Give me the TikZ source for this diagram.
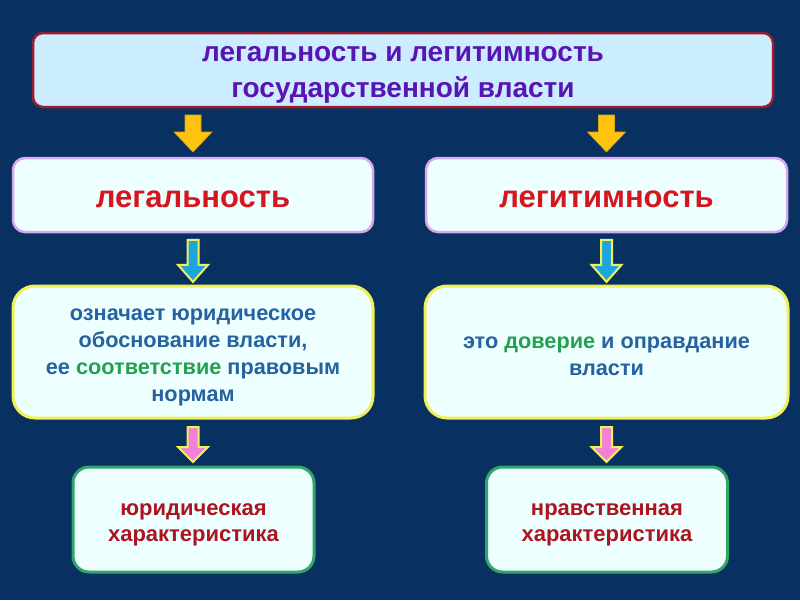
\documentclass[tikz,border=0pt]{standalone}
\usepackage{fontspec}
\setmainfont{Liberation Sans}
\usetikzlibrary{calc}
\definecolor{bgnavy}{RGB}{8,48,96}
\definecolor{topfill}{RGB}{204,236,255}
\definecolor{topline}{RGB}{155,27,48}
\definecolor{titlecol}{RGB}{88,20,180}
\definecolor{lightfill}{RGB}{238,255,255}
\definecolor{violetline}{RGB}{214,168,240}
\definecolor{redtext}{RGB}{214,22,30}
\definecolor{yellowline}{RGB}{240,240,90}
\definecolor{bluetext}{RGB}{38,98,160}
\definecolor{greentext}{RGB}{36,160,80}
\definecolor{greenline}{RGB}{50,165,105}
\definecolor{darkred}{RGB}{172,20,32}
\definecolor{goldfill}{RGB}{255,194,14}
\definecolor{cyanfill}{RGB}{30,165,222}
\definecolor{pinkfill}{RGB}{242,128,216}
\tikzset{
  titlebox/.style={draw=topline, line width=2.5pt, fill=topfill, rounded corners=10pt,
    minimum width=740pt, minimum height=74pt, inner sep=0pt},
  headbox/.style={draw=violetline, line width=2.5pt, fill=lightfill, rounded corners=12pt,
    minimum height=74pt, inner sep=0pt},
  descbox/.style={draw=yellowline, line width=3pt, fill=lightfill, rounded corners=22pt,
    minimum height=132pt, inner sep=0pt},
  charbox/.style={draw=greenline, line width=3pt, fill=lightfill, rounded corners=16pt,
    minimum width=241pt, minimum height=105pt, inner sep=0pt},
  titletext/.style={align=center, inner sep=0pt, yshift=-5pt,
    text=titlecol, font=\bfseries\fontsize{28}{36}\selectfont},
  headtext/.style={align=center, inner sep=0pt, yshift=-4pt,
    text=redtext, font=\bfseries\fontsize{31}{36}\selectfont},
  desctext/.style={align=center, inner sep=0pt, yshift=-5pt,
    text=bluetext, font=\bfseries\fontsize{21.7}{27}\selectfont},
  chartext/.style={align=center, inner sep=0pt, yshift=-5pt,
    text=darkred, font=\bfseries\fontsize{22}{26}\selectfont},
  goldarrow/.style={fill=goldfill, draw=goldfill!85!black, line width=0.6pt},
  cyanarrow/.style={fill=cyanfill, draw=yellowline, line width=2pt, line join=miter},
  pinkarrow/.style={fill=pinkfill, draw=yellowline, line width=2pt, line join=miter},
  pics/barrow/.style n args={4}{code={
    \path[pic actions] (-#1,-#4/2) -- (#1,-#4/2) -- (#1,-#4/2+#3) -- (#2,-#4/2+#3)
      -- (0,#4/2) -- (-#2,-#4/2+#3) -- (-#1,-#4/2+#3) -- cycle;}}
}
\begin{document}
\begin{tikzpicture}[x=1pt,y=-1pt]
\fill[bgnavy] (0,0) rectangle (800,600);
\useasboundingbox (0,0) rectangle (800,600);

\node[titlebox] (top) at (403,70) {};
\node[titletext] (toptext) at (top.center) {легальность и легитимность\\государственной власти};

\node[headbox, minimum width=360pt] (l1) at (193,195) {};
\node[headtext] (l1text) at (l1.center) {легальность};
\node[headbox, minimum width=361pt] (r1) at (606.5,195) {};
\node[headtext] (r1text) at (r1.center) {легитимность};

\node[descbox, minimum width=360pt] (m1) at (193,352) {};
\node[desctext] (m1text) at (m1.center)
  {означает юридическое\\обоснование власти,\\ее \textcolor{greentext}{соответствие} правовым\\нормам};
\node[descbox, minimum width=363pt] (m2) at (606.5,352) {};
\node[desctext, yshift=1pt] (m2text) at (m2.center)
  {это \textcolor{greentext}{доверие} и оправдание\\власти};

\node[charbox] (b1) at (193.5,519.5) {};
\node[chartext] (b1text) at (b1.center) {юридическая\\характеристика};
\node[charbox] (b2) at (607,519.5) {};
\node[chartext] (b2text) at (b2.center) {нравственная\\характеристика};

% block arrows (y axis points down)
\pic[goldarrow] at ($($(top.south -| l1.north)!0.5!(l1.north)$)+(0,1)$) {barrow={8}{19}{17}{37}};
\pic[goldarrow] at ($($(top.south -| r1.north)!0.5!(r1.north)$)+(0,1)$) {barrow={8}{19}{17}{37}};
\pic[cyanarrow] at ($($(l1.south)!0.5!(m1.north)$)+(0,2)$) {barrow={5.5}{15}{25}{42}};
\pic[cyanarrow] at ($($(r1.south)!0.5!(m2.north)$)+(0,2)$) {barrow={5.5}{15}{25}{42}};
\pic[pinkarrow] at ($($(m1.south)!0.5!(b1.north -| m1.south)$)+(0,2)$) {barrow={5.5}{15}{20}{35}};
\pic[pinkarrow] at ($($(m2.south)!0.5!(b2.north -| m2.south)$)+(0,2)$) {barrow={5.5}{15}{20}{35}};
\end{tikzpicture}
\end{document}
